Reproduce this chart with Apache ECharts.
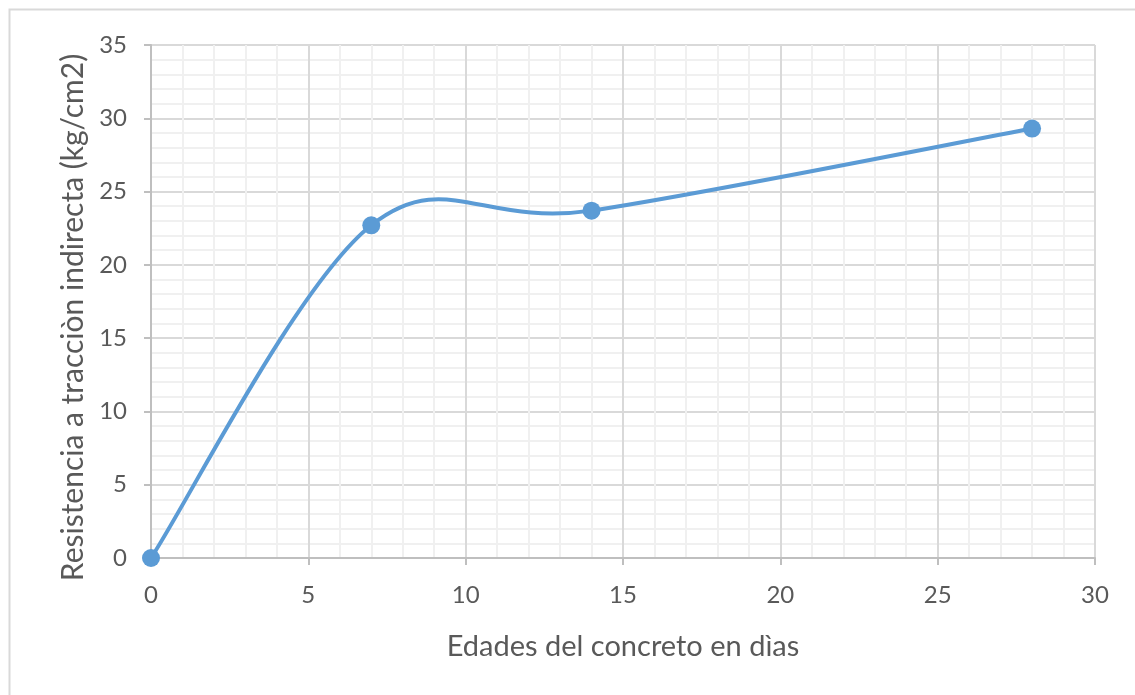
<!DOCTYPE html>
<html>
<head>
<meta charset="utf-8">
<script src="https://cdn.jsdelivr.net/npm/echarts@6/dist/echarts.min.js"></script>
<style>
  html, body { margin: 0; padding: 0; background: #ffffff; }
  #chart { width: 1135px; height: 695px; }
</style>
</head>
<body>
<div id="chart"></div>
<script>
// Concrete age (days) vs indirect tensile strength (kg/cm2)
const ages = [0, 7, 14, 28];
const strength = [0, 22.7, 23.7, 29.3];

const xTitle = 'Edades del concreto en dìas';
const yTitle = 'Resistencia a tracciòn indirecta (kg/cm2)';

const FONT = 'Lato, "Open Sans", sans-serif';
const TEXT = '#595959';
const MAJOR = '#d9d9d9';
const MINOR = '#f0f0f0';
const BLUE = '#5b9bd5';

const points = ages.map((a, i) => [a, strength[i]]);

// Smoothed line: each item draws the cubic segment from point i to i+1,
// with Catmull-Rom control points (end points repeated at the ends).
function renderSegment(params, api) {
  const i = params.dataIndex;
  const n = points.length;
  if (i >= n - 1) return null;
  const p = (k) => api.coord(points[Math.max(0, Math.min(n - 1, k))]);
  const p0 = p(i - 1), p1 = p(i), p2 = p(i + 1), p3 = p(i + 2);
  return {
    type: 'bezierCurve',
    shape: {
      x1: p1[0], y1: p1[1],
      x2: p2[0], y2: p2[1],
      cpx1: p1[0] + (p2[0] - p0[0]) / 6,
      cpy1: p1[1] + (p2[1] - p0[1]) / 6,
      cpx2: p2[0] - (p3[0] - p1[0]) / 6,
      cpy2: p2[1] - (p3[1] - p1[1]) / 6
    },
    style: { fill: null, stroke: BLUE, lineWidth: 4, lineCap: 'round' }
  };
}

const chart = echarts.init(document.getElementById('chart'), null, { renderer: 'canvas' });

chart.setOption({
  backgroundColor: '#ffffff',
  animation: false,
  graphic: [{
    type: 'rect',
    shape: { x: 9.5, y: 9.5, width: 1140, height: 700 },
    style: { fill: 'none', stroke: '#d9d9d9', lineWidth: 2 },
    silent: true
  }],
  grid: { left: 151, right: 40, top: 45, bottom: 137 },
  xAxis: {
    type: 'value',
    min: 0, max: 30, interval: 5,
    name: xTitle,
    nameLocation: 'middle',
    nameGap: 74,
    nameTextStyle: { fontFamily: FONT, fontSize: 29, color: TEXT },
    axisLine: { show: true, onZero: false, lineStyle: { color: '#bfbfbf', width: 2 } },
    axisTick: { show: true, length: 7, lineStyle: { color: '#bfbfbf', width: 2 } },
    axisLabel: { fontFamily: FONT, fontSize: 24, color: TEXT, margin: 25 },
    splitLine: { show: true, lineStyle: { color: MAJOR, width: 2 } },
    minorTick: { show: false, splitNumber: 5 },
    minorSplitLine: { show: true, lineStyle: { color: MINOR, width: 2 } }
  },
  yAxis: {
    type: 'value',
    min: 0, max: 35, interval: 5,
    name: yTitle,
    nameLocation: 'middle',
    nameGap: 62,
    nameRotate: 90,
    nameTextStyle: { fontFamily: FONT, fontSize: 30, color: TEXT, padding: [0, 32, 0, 0] },
    axisLine: { show: true, lineStyle: { color: '#bfbfbf', width: 2 } },
    axisTick: { show: true, length: 7, lineStyle: { color: '#bfbfbf', width: 2 } },
    axisLabel: { fontFamily: FONT, fontSize: 24, color: TEXT, margin: 24 },
    splitLine: { show: true, lineStyle: { color: MAJOR, width: 2 } },
    minorTick: { show: false, splitNumber: 5 },
    minorSplitLine: { show: true, lineStyle: { color: MINOR, width: 2 } }
  },
  series: [{
    type: 'custom',
    data: points,
    renderItem: renderSegment,
    encode: { x: 0, y: 1 },
    silent: true,
    z: 4
  }, {
    type: 'scatter',
    data: points,
    symbol: 'circle',
    symbolSize: 18,
    itemStyle: { color: BLUE, opacity: 1 },
    z: 5
  }]
});
</script>
</body>
</html>
